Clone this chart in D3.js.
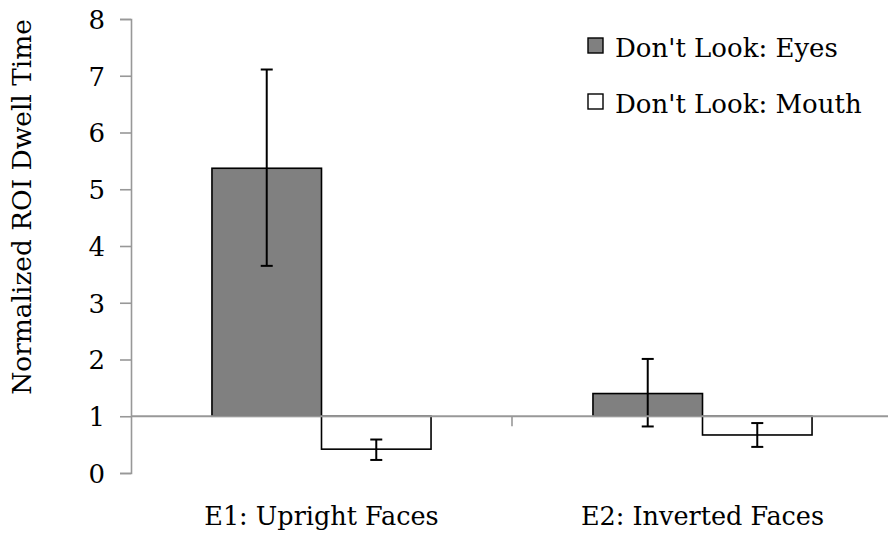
<!DOCTYPE html>
<html>
<head>
<meta charset="utf-8">
<script src="https://cdn.jsdelivr.net/npm/d3@7/dist/d3.min.js"></script>
<style>
  html, body { margin: 0; padding: 0; background: #fff; }
  svg { display: block; }
  text { font-family: "DejaVu Serif", "Liberation Serif", serif; fill: #000; }
</style>
</head>
<body>
<svg id="chart" width="888" height="533"></svg>
<script>
// Conditions and series
const categories = ["E1: Upright Faces", "E2: Inverted Faces"];
const seriesNames = ["Don't Look: Eyes", "Don't Look: Mouth"];
const seriesFill = ["#808080", "#ffffff"];

// Mean normalized dwell time per condition, one array per series
const eyesValues  = [5.37, 1.40];
const mouthValues = [0.42, 0.67];

// Error bar extents (lower, upper) per condition
const eyesLow   = [3.65, 0.82];
const eyesHigh  = [7.11, 2.01];
const mouthLow  = [0.23, 0.46];
const mouthHigh = [0.59, 0.88];

const yTicks = [0, 1, 2, 3, 4, 5, 6, 7, 8];
const yTitle = "Normalized ROI Dwell Time";
const baseline = 1;

const rows = categories.map((c, i) => ({
  category: c,
  values: [
    { s: 0, v: eyesValues[i],  lo: eyesLow[i],  hi: eyesHigh[i] },
    { s: 1, v: mouthValues[i], lo: mouthLow[i], hi: mouthHigh[i] }
  ]
}));

const svg = d3.select("#chart");
const axisColor = "#989898";

const y = d3.scaleLinear().domain([0, 8]).range([473, 19]);
const x0 = d3.scaleBand().domain(categories).range([131, 893])
  .paddingInner(0.425).paddingOuter(0.2125);
const x1 = d3.scaleBand().domain([0, 1]).range([0, x0.bandwidth()]);

// Bars, hanging from the baseline value
const groups = svg.append("g").selectAll("g").data(rows).join("g")
  .attr("transform", d => `translate(${x0(d.category)},0)`);

groups.selectAll("rect").data(d => d.values).join("rect")
  .attr("x", d => x1(d.s))
  .attr("width", x1.bandwidth())
  .attr("y", d => y(Math.max(d.v, baseline)))
  .attr("height", d => Math.abs(y(d.v) - y(baseline)))
  .attr("fill", d => seriesFill[d.s])
  .attr("stroke", "#000")
  .attr("stroke-width", 1.6);

// Y axis
const yAxis = d3.axisLeft(y).tickValues(yTicks).tickSize(11).tickPadding(15)
  .tickFormat(d3.format("d"));
const gy = svg.append("g").attr("transform", "translate(131,0)").call(yAxis);
gy.select(".domain").attr("stroke", axisColor).attr("stroke-width", 1.6);
gy.selectAll(".tick line").attr("stroke", axisColor).attr("stroke-width", 1.6);
gy.selectAll(".tick text")
  .style("font-family", "DejaVu Serif")
  .attr("font-size", 26).attr("fill", "#000").attr("dy", "0.36em");

// X axis crossing at the baseline value
const xAxisY = y(baseline);
svg.append("line")
  .attr("x1", 131).attr("x2", 893)
  .attr("y1", xAxisY).attr("y2", xAxisY)
  .attr("stroke", axisColor).attr("stroke-width", 1.8);

const bounds = [x0.range()[0], x0.range()[0] + x0.step(), x0.range()[0] + 2 * x0.step()];
svg.append("g").selectAll("line").data(bounds.slice(1)).join("line")
  .attr("x1", d => d).attr("x2", d => d)
  .attr("y1", xAxisY).attr("y2", xAxisY + 10)
  .attr("stroke", axisColor).attr("stroke-width", 1.6);

// Error bars
const cap = 6;
const eb = groups.selectAll("g.err").data(d => d.values).join("g").attr("class", "err")
  .attr("transform", d => `translate(${x1(d.s) + x1.bandwidth() / 2},0)`);
eb.append("line").attr("x1", 0).attr("x2", 0)
  .attr("y1", d => y(d.lo)).attr("y2", d => y(d.hi));
eb.append("line").attr("x1", -cap).attr("x2", cap)
  .attr("y1", d => y(d.lo)).attr("y2", d => y(d.lo));
eb.append("line").attr("x1", -cap).attr("x2", cap)
  .attr("y1", d => y(d.hi)).attr("y2", d => y(d.hi));
eb.selectAll("line").attr("stroke", "#000").attr("stroke-width", 2);

// Category labels
svg.append("g").selectAll("text").data(categories).join("text")
  .attr("x", d => x0(d) + x0.bandwidth() / 2)
  .attr("y", 525)
  .attr("text-anchor", "middle")
  .attr("font-size", 25.5)
  .text(d => d);

// Y axis title
svg.append("text")
  .attr("transform", "translate(31,207) rotate(-90)")
  .attr("text-anchor", "middle")
  .attr("font-size", 26.4)
  .text(yTitle);

// Legend
const legend = svg.append("g").selectAll("g").data(seriesNames).join("g")
  .attr("transform", (d, i) => `translate(588,${38 + i * 56})`);
legend.append("rect")
  .attr("width", 15).attr("height", 15)
  .attr("fill", (d, i) => seriesFill[i])
  .attr("stroke", "#000").attr("stroke-width", 1.4);
legend.append("text")
  .attr("x", 27).attr("y", 19)
  .attr("font-size", 26)
  .text(d => d);
</script>
</body>
</html>
